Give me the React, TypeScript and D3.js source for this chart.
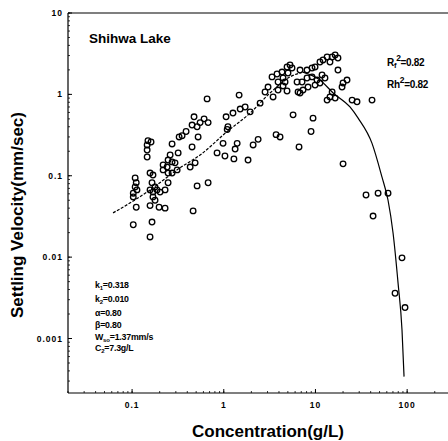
import React from 'react';
import * as d3 from 'd3';

// Observed data (concentration g/L, settling velocity mm/s)
const concentration = [
  0.149, 0.161, 0.146, 0.146, 0.146, 0.273, 0.326, 0.388, 0.451, 0.512,
  0.552, 0.675, 0.351, 0.525, 0.451, 0.318, 0.26, 0.845, 0.247, 0.273,
  0.218, 0.241, 0.294, 0.31, 0.273, 0.247, 0.218, 0.487, 0.43, 0.157,
  0.169, 0.108, 0.111, 0.108, 0.113, 0.103, 0.103, 0.165, 0.178, 0.157,
  0.169, 0.187, 0.202, 0.229, 0.247, 0.169, 0.178, 0.111, 0.157, 0.197,
  0.229, 0.512, 0.675, 0.463, 0.103, 0.165, 0.157,
  0.658, 1.47, 0.474, 0.61, 1.06, 1.26, 1.51, 1.71, 1.11, 1.09,
  0.982, 1.4, 1.33, 1.03, 1.29, 1.84, 2.49, 1.94, 2.37, 2.09,
  2.82, 3.04, 3.45, 3.91, 3.36, 3.81, 4.32, 4.43, 4.9, 5.28,
  4.66, 4.9, 6.3, 6.46, 5.7, 3.72, 4.11, 6.62,
  5.55, 5.02, 4.43, 3.91, 6.79,
  6.79, 8.09, 9.18, 9.9, 11.2, 12.1, 13.4, 15.2, 16.4, 17.6,
  14.4, 17.6, 7.14, 8.09, 9.18, 10.4, 11.8, 12.7, 7.32, 8.3,
  9.9, 11.2, 22.1, 20.0, 19.5, 15.2, 14.4, 16.4, 13.4, 25.1,
  28.4, 41.4, 9.41,
  8.95, 20.0, 35.6, 48.2, 61.9, 42.5, 87.9, 73.8, 94.8,
];
const velocity = [
  0.27, 0.26, 0.239, 0.207, 0.17, 0.246, 0.3, 0.35, 0.42, 0.4,
  0.45, 0.45, 0.31, 0.3, 0.226, 0.191, 0.18, 0.191, 0.156, 0.148,
  0.136, 0.128, 0.144, 0.118, 0.108, 0.108, 0.118, 0.144, 0.128, 0.108,
  0.102, 0.094, 0.082, 0.073, 0.067, 0.061, 0.055, 0.082, 0.073, 0.067,
  0.063, 0.067, 0.063, 0.067, 0.082, 0.055, 0.05, 0.041, 0.043, 0.041,
  0.04, 0.075, 0.082, 0.037, 0.025, 0.027, 0.0177,
  0.88, 0.98, 0.53, 0.5, 0.53, 0.59, 0.66, 0.7, 0.4, 0.37,
  0.25, 0.25, 0.213, 0.175, 0.161, 0.156, 0.78, 0.61, 0.28, 0.239,
  1.07, 1.23, 0.93, 1.42, 1.64, 1.78, 1.88, 1.59, 2.17, 2.3,
  1.42, 1.1, 1.42, 1.07, 0.56, 0.32, 0.3, 0.226,
  2.11, 1.83, 1.27, 1.13, 1.04,
  1.99, 1.99, 2.11, 2.17, 2.5, 2.65, 2.88, 2.88, 3.05, 2.8,
  2.5, 1.99, 1.42, 1.59, 1.64, 1.5, 1.73, 1.59, 1.13, 1.23,
  1.3, 1.38, 1.5, 1.38, 1.23, 1.07, 0.93, 0.9, 0.85, 0.85,
  0.81, 0.85, 0.51,
  0.35, 0.14, 0.058, 0.061, 0.061, 0.032, 0.0098, 0.0036, 0.0024,
];

// Fitted curve
const riseC = [0.062, 0.103, 0.157, 0.333, 0.552, 1.09, 1.94, 3.2, 5.28, 7.3];
const riseW = [0.035, 0.049, 0.067, 0.125, 0.18, 0.35, 0.59, 1.04, 1.64, 1.88];
const fallC = [7.3, 11.2, 15.6, 23.8, 29.2, 41.4, 53.2, 61.9, 70.2, 79.6, 87.9, 92.5];
const fallW = [1.88, 1.5, 1.04, 0.7, 0.51, 0.25, 0.096, 0.05, 0.0198, 0.0048, 0.00127, 0.00034];

const yTickValues = [0.001, 0.01, 0.1, 1, 10];
const yTickLabels = ['0.001', '0.01', '0.1', '1', '10'];
const xTickValues = [0.1, 1, 10, 100];
const xTickLabels = ['0.1', '1', '10', '100'];

const FONT = '"Liberation Sans", Arial, Helvetica, sans-serif';

export default function App() {
  const left = 68, right = 448, top = 13, bottom = 393;
  const x = d3.scaleLog().domain([0.02, 279]).range([left, right]);
  const y = d3.scaleLog().domain([2.14e-4, 10]).range([bottom, top]);

  const minorX: number[] = [];
  for (let e = -2; e <= 2; e++) for (let m = 1; m <= 9; m++) {
    const v = m * Math.pow(10, e);
    if (v >= 0.02 && v <= 279) minorX.push(v);
  }
  const minorY: number[] = [];
  for (let e = -4; e <= 1; e++) for (let m = 1; m <= 9; m++) {
    const v = m * Math.pow(10, e);
    if (v >= 2.14e-4 && v <= 10) minorY.push(v);
  }

  const line = d3.line<[number, number]>()
    .x((d) => x(d[0]))
    .y((d) => y(d[1]))
    .curve(d3.curveMonotoneX);
  const risePath = line(riseC.map((c, i) => [c, riseW[i]] as [number, number])) || '';
  const fallPath = line(fallC.map((c, i) => [c, fallW[i]] as [number, number])) || '';

  return (
    <svg width={448} height={441} style={{ position: 'absolute', left: 0, top: 0, background: '#fff' }}
      fontFamily={FONT}>
      <rect x={0} y={0} width={448} height={441} fill="#fff" />
      {/* frame */}
      <line x1={left} x2={right} y1={top} y2={top} stroke="#000" strokeWidth={1.2} />
      <line x1={left} x2={left} y1={top} y2={bottom} stroke="#000" strokeWidth={1.2} />
      <line x1={left} x2={right} y1={bottom} y2={bottom} stroke="#000" strokeWidth={1.2} />

      {/* minor ticks */}
      {minorY.map((v, i) => (
        <line key={'my' + i} x1={left} x2={left + 2} y1={y(v)} y2={y(v)} stroke="#000" strokeWidth={0.8} />
      ))}
      {minorX.map((v, i) => (
        <line key={'mx' + i} x1={x(v)} x2={x(v)} y1={bottom} y2={bottom - 2} stroke="#000" strokeWidth={0.8} />
      ))}
      {/* major ticks + labels */}
      {yTickValues.map((v, i) => (
        <g key={'yt' + i}>
          <line x1={left} x2={left + 4} y1={y(v)} y2={y(v)} stroke="#000" strokeWidth={1} />
          <text x={left - 5} y={y(v) + 3} textAnchor="end" fontSize={8.5} fontWeight="bold" letterSpacing={1}>
            {yTickLabels[i]}
          </text>
        </g>
      ))}
      {xTickValues.map((v, i) => (
        <g key={'xt' + i}>
          <line x1={x(v)} x2={x(v)} y1={bottom} y2={bottom - 4} stroke="#000" strokeWidth={1} />
          <text x={x(v)} y={408} textAnchor="middle" fontSize={8.5} fontWeight="bold" letterSpacing={1}>
            {xTickLabels[i]}
          </text>
        </g>
      ))}

      {/* axis titles */}
      <text x={268} y={437} textAnchor="middle" fontSize={17} fontWeight="bold">Concentration(g/L)</text>
      <text transform="translate(23,215) rotate(-90)" textAnchor="middle" fontSize={17} fontWeight="bold">
        Settling Velocity(mm/sec)
      </text>

      {/* title */}
      <text x={89} y={43} fontSize={13.5} fontWeight="bold">Shihwa Lake</text>

      {/* R^2 labels */}
      <text x={387} y={66} fontSize={10} fontWeight="bold" letterSpacing={-0.3}>
        R<tspan fontSize={7.5} dy={2}>f</tspan><tspan fontSize={8.5} dy={-7}>2</tspan><tspan dy={5}>=0.82</tspan>
      </text>
      <text x={387} y={88} fontSize={10} fontWeight="bold" letterSpacing={-0.3}>
        Rh<tspan fontSize={8.5} dy={-5}>2</tspan><tspan dy={5}>=0.82</tspan>
      </text>

      {/* parameters */}
      <g fontSize={8.8} fontWeight="bold" letterSpacing={-0.2}>
        <text x={95} y={288}>k<tspan fontSize={6} dy={1.5}>1</tspan><tspan dy={-1.5}>=0.318</tspan></text>
        <text x={95} y={302}>k<tspan fontSize={6} dy={1.5}>2</tspan><tspan dy={-1.5}>=0.010</tspan></text>
        <text x={95} y={316}>α=0.80</text>
        <text x={95} y={328}>β=0.80</text>
        <text x={95} y={340}>W<tspan fontSize={6} dy={1.5}>so</tspan><tspan dy={-1.5}>=1.37mm/s</tspan></text>
        <text x={95} y={351}>C<tspan fontSize={6} dy={1.5}>2</tspan><tspan dy={-1.5}>=7.3g/L</tspan></text>
      </g>

      {/* fitted curves */}
      <path d={risePath} fill="none" stroke="#000" strokeWidth={1.2} strokeDasharray="3 1.5" />
      <path d={fallPath} fill="none" stroke="#000" strokeWidth={1.2} />

      {/* points */}
      {concentration.map((c, i) => (
        <circle key={'p' + i} cx={x(c)} cy={y(velocity[i])} r={2.8} fill="none" stroke="#000" strokeWidth={1.3} />
      ))}
    </svg>
  );
}
